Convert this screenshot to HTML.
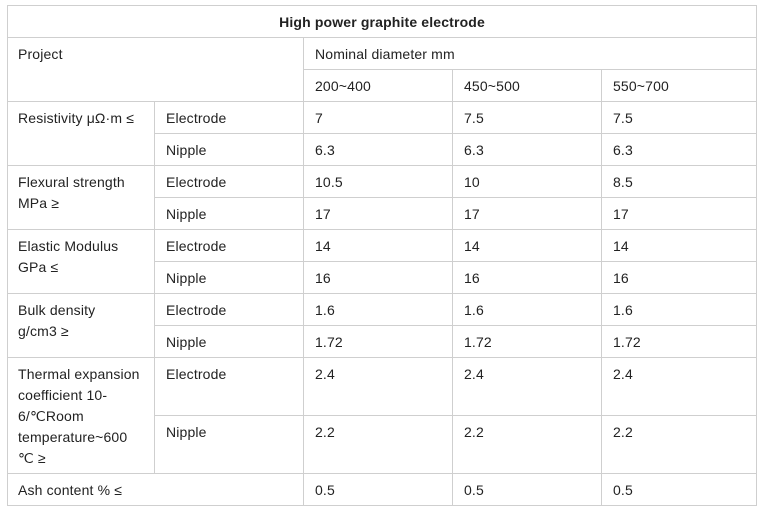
<!DOCTYPE html>
<html><head><meta charset="utf-8"><style>
body{margin:0;width:765px;height:515px;background:#fff;position:relative;overflow:hidden;font-family:"Liberation Sans",sans-serif;font-size:14px;letter-spacing:0.15px;color:#222;}
.h{position:absolute;height:1px;background:#cfcfcf}
.v{position:absolute;width:1px;background:#cfcfcf}
.t{position:absolute;line-height:21px;white-space:nowrap;margin-top:1px}
</style></head><body>
<div class="h" style="left:7px;width:750px;top:5px"></div>
<div class="h" style="left:7px;width:750px;top:37px"></div>
<div class="h" style="left:303px;width:454px;top:69px"></div>
<div class="h" style="left:7px;width:750px;top:101px"></div>
<div class="h" style="left:154px;width:603px;top:133px"></div>
<div class="h" style="left:7px;width:750px;top:165px"></div>
<div class="h" style="left:154px;width:603px;top:197px"></div>
<div class="h" style="left:7px;width:750px;top:229px"></div>
<div class="h" style="left:154px;width:603px;top:261px"></div>
<div class="h" style="left:7px;width:750px;top:293px"></div>
<div class="h" style="left:154px;width:603px;top:325px"></div>
<div class="h" style="left:7px;width:750px;top:357px"></div>
<div class="h" style="left:154px;width:603px;top:415px"></div>
<div class="h" style="left:7px;width:750px;top:473px"></div>
<div class="h" style="left:7px;width:750px;top:505px"></div>
<div class="v" style="left:7px;top:5px;height:501px"></div>
<div class="v" style="left:756px;top:5px;height:501px"></div>
<div class="v" style="left:303px;top:37px;height:469px"></div>
<div class="v" style="left:154px;top:101px;height:372px"></div>
<div class="v" style="left:452px;top:69px;height:437px"></div>
<div class="v" style="left:601px;top:69px;height:437px"></div>

<div class="t" style="left:7px;width:750px;text-align:center;top:11px;font-weight:bold">High power graphite electrode</div>
<div class="t" style="left:18px;top:43px">Project</div>
<div class="t" style="left:315px;top:43px">Nominal diameter mm</div>
<div class="t" style="left:315px;top:75px">200~400</div>
<div class="t" style="left:464px;top:75px">450~500</div>
<div class="t" style="left:613px;top:75px">550~700</div>

<div class="t" style="left:18px;top:107px">Resistivity μΩ·m ≤</div>
<div class="t" style="left:166px;top:107px">Electrode</div>
<div class="t" style="left:315px;top:107px">7</div><div class="t" style="left:464px;top:107px">7.5</div><div class="t" style="left:613px;top:107px">7.5</div>
<div class="t" style="left:166px;top:139px">Nipple</div>
<div class="t" style="left:315px;top:139px">6.3</div><div class="t" style="left:464px;top:139px">6.3</div><div class="t" style="left:613px;top:139px">6.3</div>

<div class="t" style="left:18px;top:171px">Flexural strength<br>MPa ≥</div>
<div class="t" style="left:166px;top:171px">Electrode</div>
<div class="t" style="left:315px;top:171px">10.5</div><div class="t" style="left:464px;top:171px">10</div><div class="t" style="left:613px;top:171px">8.5</div>
<div class="t" style="left:166px;top:203px">Nipple</div>
<div class="t" style="left:315px;top:203px">17</div><div class="t" style="left:464px;top:203px">17</div><div class="t" style="left:613px;top:203px">17</div>

<div class="t" style="left:18px;top:235px">Elastic Modulus<br>GPa ≤</div>
<div class="t" style="left:166px;top:235px">Electrode</div>
<div class="t" style="left:315px;top:235px">14</div><div class="t" style="left:464px;top:235px">14</div><div class="t" style="left:613px;top:235px">14</div>
<div class="t" style="left:166px;top:267px">Nipple</div>
<div class="t" style="left:315px;top:267px">16</div><div class="t" style="left:464px;top:267px">16</div><div class="t" style="left:613px;top:267px">16</div>

<div class="t" style="left:18px;top:299px">Bulk density<br>g/cm3 ≥</div>
<div class="t" style="left:166px;top:299px">Electrode</div>
<div class="t" style="left:315px;top:299px">1.6</div><div class="t" style="left:464px;top:299px">1.6</div><div class="t" style="left:613px;top:299px">1.6</div>
<div class="t" style="left:166px;top:331px">Nipple</div>
<div class="t" style="left:315px;top:331px">1.72</div><div class="t" style="left:464px;top:331px">1.72</div><div class="t" style="left:613px;top:331px">1.72</div>

<div class="t" style="left:18px;top:363px">Thermal expansion<br>coefficient 10-<br>6/℃Room<br>temperature~600<br>℃ ≥</div>
<div class="t" style="left:166px;top:363px">Electrode</div>
<div class="t" style="left:315px;top:363px">2.4</div><div class="t" style="left:464px;top:363px">2.4</div><div class="t" style="left:613px;top:363px">2.4</div>
<div class="t" style="left:166px;top:421px">Nipple</div>
<div class="t" style="left:315px;top:421px">2.2</div><div class="t" style="left:464px;top:421px">2.2</div><div class="t" style="left:613px;top:421px">2.2</div>

<div class="t" style="left:18px;top:479px">Ash content % ≤</div>
<div class="t" style="left:315px;top:479px">0.5</div><div class="t" style="left:464px;top:479px">0.5</div><div class="t" style="left:613px;top:479px">0.5</div>
</body></html>
